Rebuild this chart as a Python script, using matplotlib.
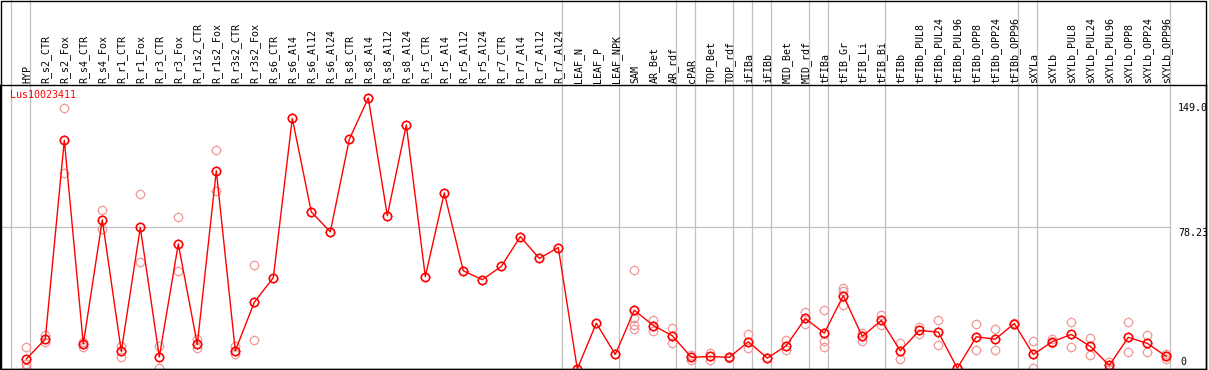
import numpy as np
import matplotlib
matplotlib.use("Agg")
from matplotlib import pyplot as plt
from matplotlib.path import Path
from matplotlib.patches import Rectangle

gene = "Lus10023411"

samples = ["HYP", "R_s2_CTR", "R_s2_Fox", "R_s4_CTR", "R_s4_Fox", "R_r1_CTR", "R_r1_Fox",
           "R_r3_CTR", "R_r3_Fox", "R_r1s2_CTR", "R_r1s2_Fox", "R_r3s2_CTR", "R_r3s2_Fox",
           "R_s6_CTR", "R_s6_Al4", "R_s6_Al12", "R_s6_Al24", "R_s8_CTR", "R_s8_Al4", "R_s8_Al12",
           "R_s8_Al24", "R_r5_CTR", "R_r5_Al4", "R_r5_Al12", "R_r5_Al24", "R_r7_CTR", "R_r7_Al4",
           "R_r7_Al12", "R_r7_Al24", "LEAF_N", "LEAF_P", "LEAF_NPK", "SAM", "AR_Bet", "AR_rdf",
           "cPAR", "TOP_Bet", "TOP_rdf", "iFIBa", "iFIBb", "MID_Bet", "MID_rdf", "tFIBa",
           "tFIB_Gr", "tFIB_Li", "tFIB_Bi", "tFIBb", "tFIBb_PUL8", "tFIBb_PUL24", "tFIBb_PUL96",
           "tFIBb_OPP8", "tFIBb_OPP24", "tFIBb_OPP96", "sXYLa", "sXYLb", "sXYLb_PUL8",
           "sXYLb_PUL24", "sXYLb_PUL96", "sXYLb_OPP8", "sXYLb_OPP24", "sXYLb_OPP96"]

# mean expression per sample
means = [5.5, 16.4, 125.8, 13.7, 82.0, 9.7, 77.8, 6.6, 68.8, 13.5, 109.0, 10.0, 36.7,
         50.2, 137.8, 86.4, 75.4, 126.3, 149.0, 84.3, 134.2, 50.8, 96.8, 54.0, 49.1, 56.4,
         72.8, 60.8, 66.8, 0.0, 25.2, 8.0, 32.3, 23.9, 18.3, 6.4, 6.9, 6.4, 15.0, 6.0,
         12.8, 27.8, 19.7, 40.4, 17.9, 26.7, 10.0, 21.2, 20.3, 0.4, 17.7, 16.4, 25.0,
         8.0, 15.0, 19.0, 12.4, 2.0, 17.4, 14.1, 6.9]

# individual replicates
reps = [[12.0, 3.0, 0.8], [18.6, 14.6], [143.3, 107.7], [11.9, 14.8], [87.6, 76.7],
        [12.8, 6.7], [96.2, 59.0], [12.8, 0.4], [83.8, 54.1], [16.4, 11.3], [120.3, 97.6],
        [12.4, 8.2], [57.3, 15.7], [], [], [], [], [], [], [], [], [], [], [], [], [], [],
        [], [], [], [], [], [54.6, 28.3, 24.3, 21.9], [26.8, 21.0], [22.6, 14.1],
        [5.0, 7.5], [8.8, 5.1], [6.0, 6.8], [19.5, 11.3], [5.8, 6.2], [15.7, 10.6],
        [31.6, 24.5], [32.5, 15.2, 12.0], [44.5, 42.7, 35.0], [15.3, 19.7], [29.7, 24.1],
        [14.2, 5.3], [23.0, 19.2], [26.7, 13.0], [0.3, 0.5], [25.0, 10.2], [21.9, 10.2],
        [24.6, 25.4], [15.2, 0.5], [16.4, 14.1], [25.7, 11.9], [17.0, 7.5], [3.7, 0.5],
        [25.7, 9.1], [18.6, 9.1], [8.4, 5.5]]

# last sample of each group (grey separators)
group_ends = [-1, 0, 28, 31, 34, 35, 37, 38, 39, 41, 42, 45, 52, 53, 60]

y_marks = [149.0, 78.23, 0]
y_mark_labels = ["149.0", "78.23", "0"]

mono = "DejaVu Sans Mono"

# tiny pips just outside the circle
pips = Path([[0, 1.05], [0, 1.3], [0, -1.05], [0, -1.3], [1.05, 0], [1.3, 0], [-1.05, 0], [-1.3, 0]],
            [Path.MOVETO, Path.LINETO] * 4)
circ = 6.0
pip_ms = circ * 1.3

W, H = 1209, 370
fig = plt.figure(figsize=(W / 100, H / 100), dpi=100)
ax = fig.add_axes([0, 1 / H, 1206 / W, 284 / H])

x = np.arange(len(samples))
ax.set_xlim(-26.3 / 19, (1206 - 26.3) / 19)
ytop = 284 / 1.8188
ax.set_ylim(0, ytop)
ax.set_xticks([])
ax.set_yticks([])
for s in ax.spines.values():
    s.set_color("black")
    s.set_linewidth(1.0)

# separators run through the header too
for g in group_ends:
    ax.axvline(g + 0.22, ymin=0, ymax=369 / 284, color="#c0c0c0", lw=0.9,
               clip_on=False, zorder=1)
ax.hlines(y_marks[1], -26.3 / 19, 60.22, color="#c0c0c0", lw=0.9, zorder=1)

for i, r in enumerate(reps):
    if r:
        xs = [i] * len(r)
        ax.plot(xs, r, linestyle="none", marker="o", ms=circ, mfc="none",
                mec="#f09a9a", mew=0.9, zorder=2)
        ax.plot(xs, r, linestyle="none", marker=pips, ms=pip_ms,
                mec="#f09a9a", mew=0.6, zorder=2)

ax.plot(x, means, color="red", lw=1.0, marker="o", ms=circ, mfc="none",
        mec="red", mew=1.2, zorder=3)
ax.plot(x, means, linestyle="none", marker=pips, ms=pip_ms, mec="red", mew=0.7, zorder=3)

for i, name in enumerate(samples):
    ax.text(i + 0.04, ytop + 1.2, name, rotation=90, ha="center", va="bottom",
            family=mono, fontsize=7.2, clip_on=False)

ax.text(-0.86, ytop - 2.5, gene, color="red", family=mono, fontsize=7.2,
        ha="left", va="top")

xl = (1178 - 26.3) / 19
ax.text(xl, 146.5, y_mark_labels[0], family=mono, fontsize=7.2, ha="left", va="top")
ax.text(xl, y_marks[1] - 0.8, y_mark_labels[1], family=mono, fontsize=7.2, ha="left", va="top")
ax.text(xl + 0.1, 2.2, y_mark_labels[2], family=mono, fontsize=7.2, ha="left", va="baseline")

# outer frame round the whole picture
fig.add_artist(Rectangle((0.5 / W, 1 / H), 1205.5 / W, 368.5 / H, transform=fig.transFigure,
                         fill=False, ec="black", lw=1.0))

fig.savefig("out.png", dpi=100)
